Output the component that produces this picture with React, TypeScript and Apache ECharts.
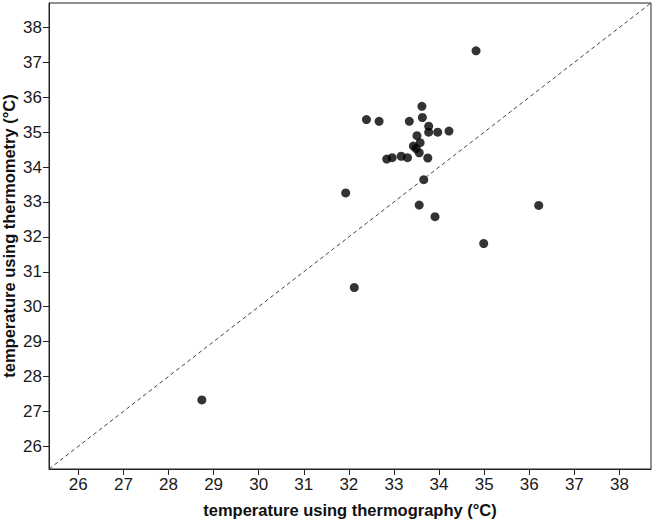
import React, { useEffect, useRef } from "react";
import * as echarts from "echarts";

const thermography: number[] = [
  34.82, 33.62, 32.39, 32.67, 33.34, 33.63, 33.77, 33.77, 33.97, 34.22,
  33.51, 33.58, 33.43, 33.49, 33.56, 33.75, 32.84, 32.96, 33.16, 33.30,
  33.66, 31.93, 33.56, 33.91, 36.21, 34.99, 32.12, 28.74,
];
const thermometry: number[] = [
  37.33, 35.74, 35.36, 35.31, 35.31, 35.42, 35.17, 35.0, 35.0, 35.03,
  34.9, 34.7, 34.6, 34.53, 34.41, 34.26, 34.23, 34.27, 34.31, 34.27,
  33.64, 33.26, 32.91, 32.58, 32.9, 31.81, 30.55, 27.33,
];
const tickValues: number[] = [26, 27, 28, 29, 30, 31, 32, 33, 34, 35, 36, 37, 38];
const axisMin = 25.35;
const axisMax = 38.7;
const xTitle = "temperature using thermography (°C)";
const yTitle = "temperature using thermometry (°C)";

export default function App() {
  const ref = useRef<HTMLDivElement>(null);
  useEffect(() => {
    if (!ref.current) return;
    const chart = echarts.init(ref.current, undefined, { renderer: "svg" });
    const points = thermography.map((x, i) => [x, thermometry[i]]);
    const font = "Liberation Sans, Arial, sans-serif";
    const axisCommon = {
      type: "value" as const,
      min: axisMin,
      max: axisMax,
      splitLine: { show: false },
      axisLine: { show: true, onZero: false, lineStyle: { color: "#222", width: 1 } },
      axisTick: { show: true, length: 6, customValues: tickValues, lineStyle: { color: "#222", width: 1 } },
      axisLabel: {
        color: "#1a1a1a",
        fontSize: 17,
        fontFamily: font,
        margin: 7,
        customValues: tickValues,
      },
      nameLocation: "middle" as const,
      nameMoveOverlap: false,
      nameTextStyle: {
        color: "#111",
        fontSize: 16.5,
        fontWeight: "bold" as const,
        fontFamily: font,
      },
    };
    chart.setOption({
      animation: false,
      backgroundColor: "#fff",
      grid: {
        left: 49,
        right: 3,
        top: 3,
        bottom: 52,
        outerBoundsMode: "none",
        containLabel: false,
        show: true,
        borderColor: "#222",
        borderWidth: 1,
        backgroundColor: "transparent",
      },
      xAxis: {
        ...axisCommon,
        name: xTitle,
        nameGap: 32,
      },
      yAxis: {
        ...axisCommon,
        name: yTitle,
        nameGap: 32,
      },
      series: [
        {
          type: "line",
          data: [
            [axisMin, axisMin],
            [axisMax, axisMax],
          ],
          symbol: "none",
          silent: true,
          lineStyle: { color: "#444", width: 1, type: [4, 3] },
        },
        {
          type: "scatter",
          data: points,
          symbol: "circle",
          symbolSize: 9,
          itemStyle: { color: "#000" },
        },
      ],
    });
    return () => chart.dispose();
  }, []);
  return <div ref={ref} style={{ width: 654, height: 521, position: "absolute", left: 0, top: 0 }} />;
}
